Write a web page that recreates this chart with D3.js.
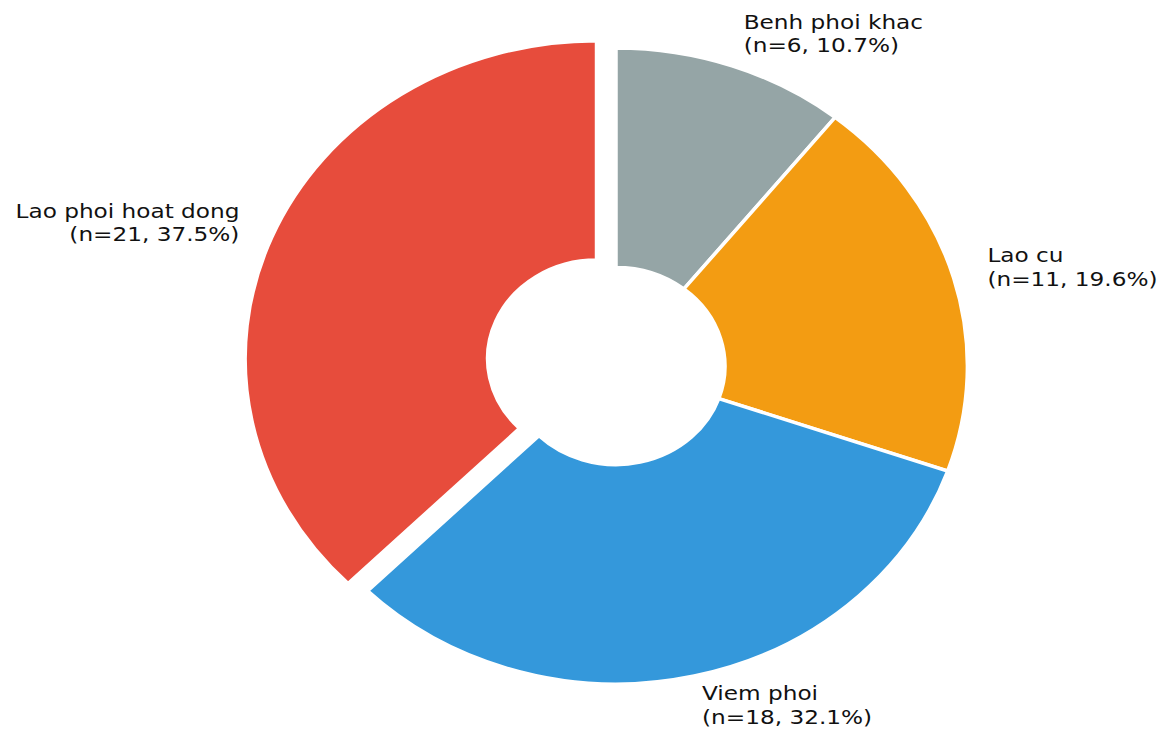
<!DOCTYPE html>
<html lang="en">
<head>
  <meta charset="UTF-8">
  <title>Donut</title>
  <script src="https://d3js.org/d3.v7.min.js"></script>
  <style>
    body { margin: 0; background: #fff; }
  </style>
</head>
<body>
<script type="text/javascript">
    // data
    var categories = ["Benh phoi khac", "Lao cu", "Viem phoi", "Lao phoi hoat dong"];
    var counts = [6, 11, 18, 21];
    var colors = ["#95a5a6", "#f39c12", "#3498db", "#e74c3c"];
    var explode = [0, 0, 0, 0.06];

    var width = 1167, height = 735;
    var cx = 616, cy = 366;
    var R = 318;           // outer radius (vertical px)
    var inner = 0.31 * R;  // hole
    var sx = 1.105;        // picture is stretched sideways
    var tsx = 1.16;        // text stretch
    var fs = 20;

    var total = d3.sum(counts);

    var svg = d3.select("body").append("svg")
                .attr("width", width)
                .attr("height", height);

    var pie = d3.pie().sort(null).startAngle(0).endAngle(2 * Math.PI);
    var arcs = pie(counts);

    var arc = d3.arc().innerRadius(inner).outerRadius(R);

    var g = svg.append("g")
               .attr("transform", "translate(" + cx + "," + cy + ") scale(" + sx + ",1)");

    g.selectAll("path")
      .data(arcs)
      .enter()
      .append("path")
      .attr("d", arc)
      .attr("fill", function(d, i){ return colors[i]; })
      .attr("stroke", "#fff")
      .attr("stroke-width", 3.5)
      .attr("vector-effect", "non-scaling-stroke")
      .attr("transform", function(d, i){
        var a = (d.startAngle + d.endAngle) / 2;
        var e = explode[i] * R;
        return "translate(" + (Math.sin(a) * e) + "," + (-Math.cos(a) * e) + ")";
      });

    // labels
    var labels = svg.selectAll("text.lbl")
      .data(arcs)
      .enter()
      .append("text")
      .attr("class", "lbl")
      .attr("font-family", "DejaVu Sans")
      .attr("font-size", fs)
      .attr("fill", "#111")
      .attr("text-anchor", function(d){
        var a = (d.startAngle + d.endAngle) / 2;
        return Math.sin(a) >= 0 ? "start" : "end";
      })
      .attr("transform", function(d, i){
        var a = (d.startAngle + d.endAngle) / 2;
        var rr = (1.1 + explode[i]) * R;
        var x = cx + Math.sin(a) * rr * sx;
        var y = cy - Math.cos(a) * rr;
        return "translate(" + x + "," + y + ") scale(" + tsx + ",1)";
      });

    labels.append("tspan")
      .attr("x", 0)
      .attr("y", -7)
      .text(function(d, i){ return categories[i]; });

    labels.append("tspan")
      .attr("x", 0)
      .attr("y", 16.5)
      .text(function(d, i){
        return "(n=" + counts[i] + ", " + (counts[i] / total * 100).toFixed(1) + "%)";
      });
</script>
</body>
</html>
